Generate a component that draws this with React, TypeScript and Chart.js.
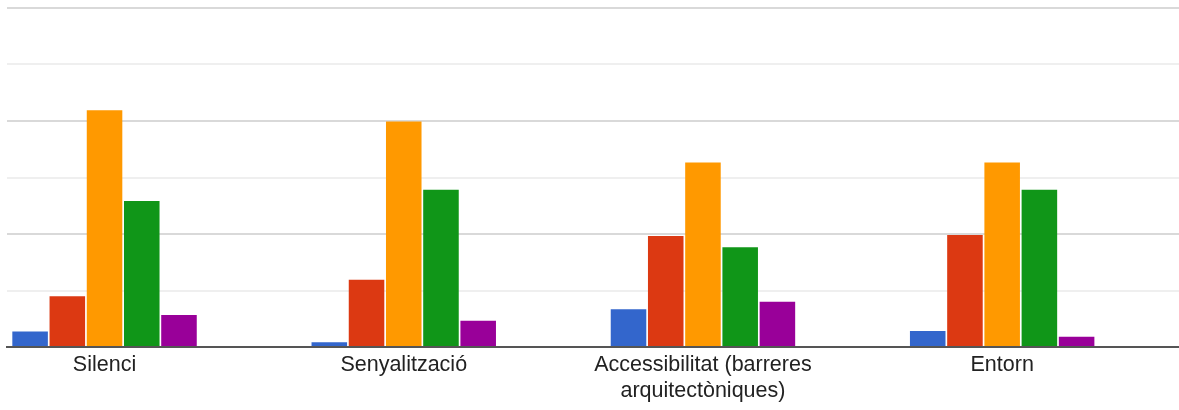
import React, { useEffect, useRef } from "react";
import { Chart, registerables } from "chart.js";

Chart.register(...registerables);

const categories: (string | string[])[] = [
  "Silenci",
  "Senyalització",
  ["Accessibilitat (barreres", "arquitectòniques)"],
  "Entorn",
];

const seriesBlue = [3.3, 1, 8, 3.4];
const seriesRed = [10.8, 14.3, 23.6, 23.8];
const seriesOrange = [50.3, 47.9, 39.2, 39.2];
const seriesGreen = [31, 33.4, 21.2, 33.4];
const seriesPurple = [6.8, 5.6, 9.6, 2.2];

const seriesColors = ["#3366cc", "#dc3912", "#ff9900", "#109618", "#990099"];
const seriesNames = ["1", "2", "3", "4", "5"];

const yMax = 72;
const yStep = 12;
const xMin = -0.326;
const xMax = 3.591;

export default function App() {
  const canvasRef = useRef<HTMLCanvasElement | null>(null);

  useEffect(() => {
    const canvas = canvasRef.current;
    if (!canvas) return;
    const all = [seriesBlue, seriesRed, seriesOrange, seriesGreen, seriesPurple];
    const chart = new Chart(canvas, {
      type: "bar",
      data: {
        datasets: all.map((vals, si) => ({
          label: seriesNames[si],
          data: vals.map((v, i) => ({ x: i, y: v })),
          backgroundColor: seriesColors[si],
          borderWidth: 0,
          barPercentage: 0.955,
          categoryPercentage: 0.622,
        })),
      },
      options: {
        animation: false,
        responsive: true,
        maintainAspectRatio: false,
        layout: { padding: { left: 7, right: 0, top: 8, bottom: 0 } },
        plugins: {
          legend: { display: false },
          title: { display: false },
          tooltip: { enabled: false },
        },
        scales: {
          x: {
            type: "linear",
            min: xMin,
            max: xMax,
            offset: false,
            bounds: "data",
            grid: { display: false, drawTicks: false, offset: false },
            border: { display: true, color: "#555555", width: 2 },
            afterDataLimits: (s: any) => {
              s.min = xMin;
              s.max = xMax;
            },
            afterBuildTicks: (s: any) => {
              s.ticks = categories.map((_, i) => ({ value: i }));
            },
            afterFit: (s: any) => {
              s.height = 63;
            },
            ticks: {
              autoSkip: false,
              maxRotation: 0,
              minRotation: 0,
              includeBounds: false,
              padding: 5,
              color: "#222222",
              font: {
                family: "Arial, 'Liberation Sans', sans-serif",
                size: 21.5,
                lineHeight: 1.2,
              },
              callback: (v: any) => {
                const i = Math.round(Number(v));
                return Math.abs(Number(v) - i) < 1e-6 && categories[i] !== undefined
                  ? (categories[i] as any)
                  : "";
              },
            },
          },
          y: {
            min: 0,
            max: yMax,
            ticks: { display: false, stepSize: yStep },
            border: { display: false },
            grid: {
              drawTicks: false,
              lineWidth: 2,
              color: (ctx: any) =>
                ctx.tick && ctx.tick.value % (yStep * 2) === 0 ? "#d9d9d9" : "#efefef",
            },
            afterFit: (s: any) => {
              s.width = 0;
            },
          },
        },
      },
    });
    return () => chart.destroy();
  }, []);

  return (
    <div style={{ position: "absolute", left: 0, top: 0, width: 1179, height: 410, background: "#fff" }}>
      <canvas ref={canvasRef} />
    </div>
  );
}
